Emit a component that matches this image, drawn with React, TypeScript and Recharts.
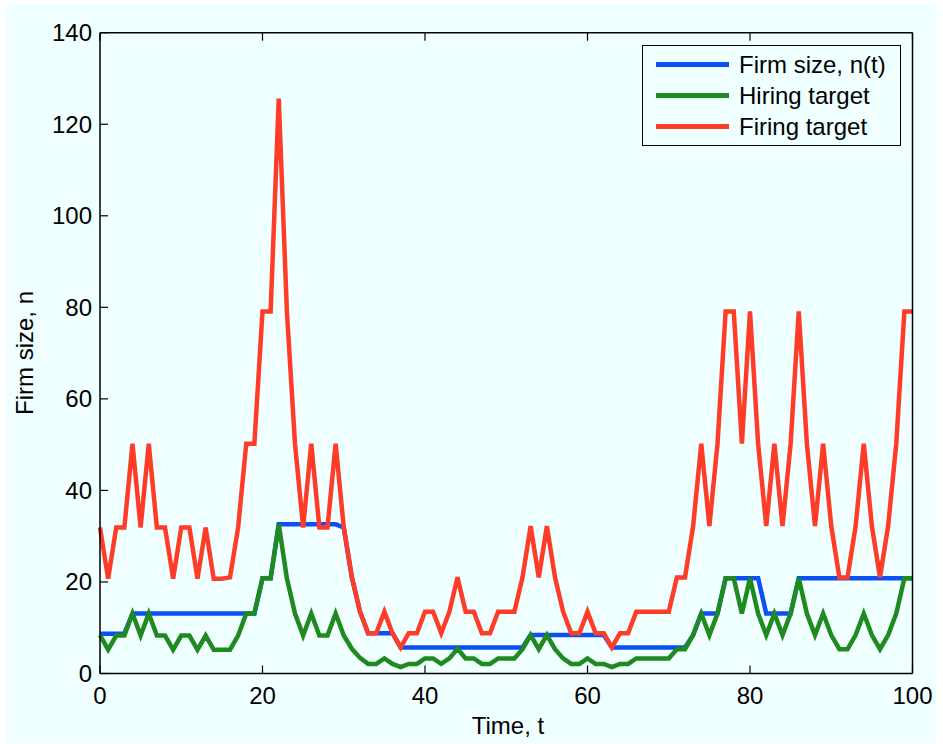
import React from 'react';
import { LineChart, Line, XAxis, YAxis, Legend } from 'recharts';

const TIME = [
  0, 1, 2, 3, 4, 5, 6, 7, 8, 9, 10, 11, 12, 13, 14, 15, 16, 17, 18, 19, 20,
  21, 22, 23, 24, 25, 26, 27, 28, 29, 30, 31, 32, 33, 34, 35, 36, 37, 38, 39, 40,
  41, 42, 43, 44, 45, 46, 47, 48, 49, 50, 51, 52, 53, 54, 55, 56, 57, 58, 59, 60,
  61, 62, 63, 64, 65, 66, 67, 68, 69, 70, 71, 72, 73, 74, 75, 76, 77, 78, 79, 80,
  81, 82, 83, 84, 85, 86, 87, 88, 89, 90, 91, 92, 93, 94, 95, 96, 97, 98, 99, 100,
];

const FIRM_SIZE = [
  8.7, 8.7, 8.7, 8.7, 13.1, 13.1, 13.1, 13.1, 13.1, 13.1, 13.1,
  13.1, 13.1, 13.1, 13.1, 13.1, 13.1, 13.1, 13.1, 13.1, 20.8,
  20.8, 32.6, 32.6, 32.6, 32.6, 32.6, 32.6, 32.6, 32.6, 31.9,
  21.0, 13.5, 8.8, 8.8, 8.8, 8.8, 5.7, 5.7, 5.7, 5.7,
  5.7, 5.7, 5.7, 5.7, 5.7, 5.7, 5.7, 5.7, 5.7, 5.7,
  5.7, 5.7, 8.4, 8.4, 8.4, 8.4, 8.4, 8.4, 8.4, 8.4,
  8.4, 8.4, 5.7, 5.7, 5.7, 5.7, 5.7, 5.7, 5.7, 5.7,
  5.7, 5.7, 8.4, 13.1, 13.1, 13.1, 20.8, 20.8, 20.8, 20.8,
  20.8, 13.1, 13.1, 13.1, 13.1, 20.8, 20.8, 20.8, 20.8, 20.8,
  20.8, 20.8, 20.8, 20.8, 20.8, 20.8, 20.8, 20.8, 20.8, 20.8,
];

const HIRING_TARGET = [
  8.4, 5.2, 8.3, 8.3, 13.1, 8.3, 13.1, 8.3, 8.3, 5.2, 8.3,
  8.3, 5.2, 8.3, 5.2, 5.2, 5.2, 8.3, 13.1, 13.1, 20.8,
  20.8, 32.6, 20.8, 13.1, 8.3, 13.1, 8.3, 8.3, 13.1, 8.3,
  5.4, 3.4, 2.1, 2.1, 3.3, 2.1, 1.4, 2.1, 2.1, 3.3,
  3.3, 2.1, 3.3, 5.4, 3.3, 3.3, 2.1, 2.1, 3.3, 3.3,
  3.3, 5.3, 8.4, 5.3, 8.4, 5.3, 3.3, 2.1, 2.1, 3.3,
  2.1, 2.1, 1.4, 2.1, 2.1, 3.3, 3.3, 3.3, 3.3, 3.3,
  5.3, 5.3, 8.4, 13.1, 8.4, 13.1, 20.8, 20.8, 13.1, 20.8,
  13.1, 8.4, 13.1, 8.4, 13.1, 20.8, 13.1, 8.4, 13.1, 8.4,
  5.3, 5.3, 8.4, 13.1, 8.4, 5.3, 8.4, 13.1, 20.8, 20.8,
];

const FIRING_TARGET = [
  31.9, 20.7, 31.9, 31.9, 50.2, 31.9, 50.2, 31.9, 31.9, 20.7, 31.9,
  31.9, 20.7, 31.9, 20.7, 20.7, 21.0, 31.9, 50.2, 50.2, 79.1,
  79.1, 125.6, 79.1, 50.2, 31.9, 50.2, 31.9, 31.9, 50.2, 31.9,
  21.0, 13.5, 8.8, 8.8, 13.5, 8.8, 5.7, 8.8, 8.8, 13.5,
  13.5, 8.8, 13.5, 21.0, 13.5, 13.5, 8.8, 8.8, 13.5, 13.5,
  13.5, 21.0, 32.2, 21.0, 32.2, 21.0, 13.5, 8.8, 8.8, 13.5,
  8.8, 8.8, 5.7, 8.8, 8.8, 13.5, 13.5, 13.5, 13.5, 13.5,
  21.0, 21.0, 32.2, 50.2, 32.2, 50.2, 79.1, 79.1, 50.2, 79.1,
  50.2, 32.2, 50.2, 32.2, 50.2, 79.1, 50.2, 32.2, 50.2, 32.2,
  21.0, 21.0, 32.2, 50.2, 32.2, 21.0, 32.2, 50.2, 79.1, 79.1,
];

const X_TICKS = [0, 20, 40, 60, 80, 100];
const Y_TICKS = [0, 20, 40, 60, 80, 100, 120, 140];

const SERIES = [
  { key: 'firm', name: 'Firm size, n(t)', color: '#0a50f5' },
  { key: 'hiring', name: 'Hiring target', color: '#1f8a1f' },
  { key: 'firing', name: 'Firing target', color: '#ff3c28' },
];

const data = TIME.map((t, i) => ({
  t,
  firm: FIRM_SIZE[i],
  hiring: HIRING_TARGET[i],
  firing: FIRING_TARGET[i],
}));

const FONT = '"Liberation Sans", Arial, Helvetica, sans-serif';
const FS = 24;
const BG = '#F0FFFF';
const tickStyle = { fill: '#000', fontSize: FS, fontFamily: FONT };
const NoTick = () => <g />;

const renderLegend = () => (
  <div
    style={{
      boxSizing: 'border-box',
      width: 259,
      height: 101,
      border: '1.5px solid #000',
      background: BG,
      paddingTop: 3,
      fontFamily: FONT,
      fontSize: FS,
      color: '#000',
    }}
  >
    {SERIES.map((s) => (
      <div key={s.key} style={{ display: 'flex', alignItems: 'center', height: 31 }}>
        <div style={{ marginLeft: 13, width: 73, height: 4.5, background: s.color }} />
        <span style={{ marginLeft: 10, lineHeight: '31px', whiteSpace: 'nowrap' }}>{s.name}</span>
      </div>
    ))}
  </div>
);

export default function App() {
  return (
    <div style={{ position: 'absolute', left: 0, top: 0, width: 943, height: 744, background: '#fff' }}>
      <div style={{ position: 'absolute', left: 6, top: 4, width: 931, height: 739, background: BG }} />
      <div style={{ position: 'absolute', left: 0, top: 0 }}>
        <LineChart
          width={943}
          height={744}
          data={data}
          margin={{ top: 31.7, right: 29.5, bottom: 30.5, left: 40 }}
        >
          <XAxis
            dataKey="t"
            type="number"
            domain={[0, 100]}
            ticks={X_TICKS}
            interval={0}
            height={40}
            tickSize={-8}
            tickMargin={21.5}
            tick={tickStyle}
            axisLine={{ stroke: '#000', strokeWidth: 1.5 }}
            tickLine={{ stroke: '#000', strokeWidth: 1.2 }}
            label={{
              content: () => (
                <text x={508} y={734} textAnchor="middle" fontSize={FS} fontFamily={FONT} fill="#000">
                  Time, t
                </text>
              ),
            }}
          />
          <XAxis
            xAxisId="top"
            orientation="top"
            dataKey="t"
            type="number"
            domain={[0, 100]}
            ticks={X_TICKS}
            interval={0}
            height={1}
            tickSize={-8}
            tick={NoTick}
            axisLine={{ stroke: '#000', strokeWidth: 1.5 }}
            tickLine={{ stroke: '#000', strokeWidth: 1.2 }}
          />
          <YAxis
            type="number"
            domain={[0, 140]}
            ticks={Y_TICKS}
            interval={0}
            width={60}
            tickSize={-8}
            tickMargin={16}
            tick={tickStyle}
            axisLine={{ stroke: '#000', strokeWidth: 1.5 }}
            tickLine={{ stroke: '#000', strokeWidth: 1.2 }}
            label={{
              content: () => (
                <text
                  transform="translate(33, 353) rotate(-90)"
                  textAnchor="middle"
                  fontSize={FS}
                  fontFamily={FONT}
                  fill="#000"
                >
                  Firm size, n
                </text>
              ),
            }}
          />
          <YAxis
            yAxisId="right"
            orientation="right"
            type="number"
            domain={[0, 140]}
            ticks={Y_TICKS}
            interval={0}
            width={1}
            tickSize={-8}
            tick={NoTick}
            axisLine={{ stroke: '#000', strokeWidth: 1.5 }}
            tickLine={{ stroke: '#000', strokeWidth: 1.2 }}
          />
          <Legend
            layout="horizontal"
            verticalAlign="middle"
            align="center"
            content={renderLegend}
            wrapperStyle={{ left: 642, top: 45, width: 259, height: 101 }}
          />
          {SERIES.map((s) => (
            <Line
              key={s.key}
              type="linear"
              dataKey={s.key}
              name={s.name}
              stroke={s.color}
              strokeWidth={4.5}
              dot={false}
              activeDot={false}
              isAnimationActive={false}
            />
          ))}
        </LineChart>
      </div>
    </div>
  );
}
